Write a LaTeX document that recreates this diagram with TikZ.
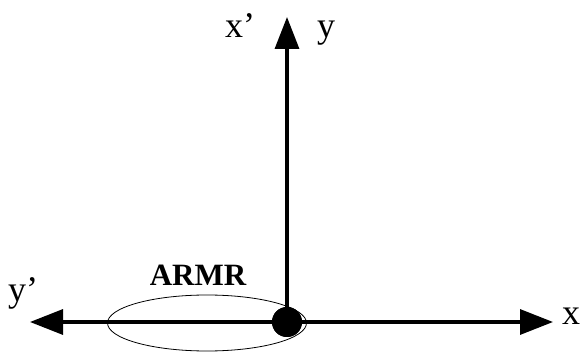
\documentclass[tikz,border=0pt]{standalone}
\usepackage{fontspec}
\setmainfont{Liberation Serif}
\usetikzlibrary{arrows.meta,shapes.geometric}
\begin{document}
\begin{tikzpicture}[x=1pt,y=-1pt,
  axis/.style={line width=3.3pt,-{Triangle[length=32pt,width=24pt]}},
  biaxis/.style={line width=3.3pt,{Triangle[length=33pt,width=25pt]}-{Triangle[length=33pt,width=25pt]}},
  lbl/.style={font=\fontsize{36}{40}\selectfont,inner sep=0pt,anchor=base west},
  blbl/.style={font=\fontsize{31}{36}\selectfont\bfseries,inner sep=0pt,anchor=base},
  region/.style={draw,ellipse,line width=0.8pt,minimum width=199pt,minimum height=56pt,inner sep=0pt},
  origin/.style={circle,fill=black,minimum size=30pt,inner sep=0pt}]
\useasboundingbox (0,0) rectangle (584,352);
\node[region] (E) at (207,323) {};
\coordinate (L) at (30,322);
\coordinate (R) at (553,322);
\coordinate (T) at (287,17);
\node[origin] (O) at (287,322) {};
\draw[biaxis] (L) -- (R);
\draw[axis] (O.center) -- (T);
\node[origin] at (O) {};
\node[lbl] (xp) at (225,38) {x’};
\node[lbl] (y) at (317,38) {y};
\node[lbl] (yp) at (8,302) {y’};
\node[lbl] (x) at (562,325) {x};
\node[blbl] (armr) at (198,286) {ARMR};
\end{tikzpicture}
\end{document}
